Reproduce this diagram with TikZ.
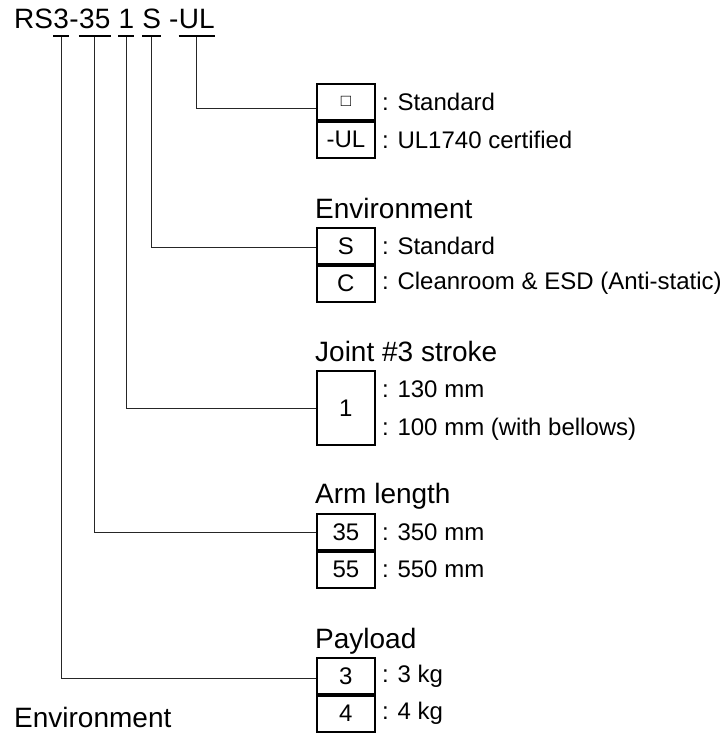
\documentclass[tikz,border=0pt]{standalone}
\usepackage{fontspec}
\setmainfont{Liberation Sans}
\tikzset{
  seg/.style={font=\fontsize{28}{32}\selectfont, inner sep=0pt, anchor=base west},
  uline/.style={line width=2.8pt},
  conn/.style={line width=0.8pt, black!85},
  cell/.style={draw, line width=1.8pt, inner sep=0pt, anchor=north west,
    minimum width=58, minimum height=36, font=\fontsize{24}{28}\selectfont},
  lab/.style={inner sep=0pt, anchor=west, font=\fontsize{24}{28}\selectfont},
  head/.style={inner sep=0pt, anchor=base west, font=\fontsize{28}{32}\selectfont},
}
\begin{document}
\begin{tikzpicture}[x=1pt,y=-1pt]
\useasboundingbox (0,0) rectangle (723,733);
% title
\node[seg] (rs) at (14,29) {RS};
\node[seg] (p3) at (rs.base east) {3};
\node[seg] (d1) at (p3.base east) {-};
\node[seg] (p35) at (d1.base east) {35};
\node[seg] (p1) at ([xshift=7.8pt]p35.base east) {1};
\node[seg] (pS) at ([xshift=7.8pt]p1.base east) {S};
\node[seg] (d2) at ([xshift=7.8pt]pS.base east) {-};
\node[seg] (pUL) at (d2.base east) {UL};
\foreach \n in {p3,p35,p1,pS,pUL}
  \draw[uline] ([yshift=-7pt]\n.base west) -- ([yshift=-7pt]\n.base east);

% UL box
\node[cell] (ul1) at (316,83) {\fontsize{17}{20}\selectfont □};
\node[cell] (ul2) at (ul1.south west) {-UL};
\node[lab] (ul1l) at ([xshift=6pt]ul1.east) {: Standard};
\node[lab] (ul2l) at ([xshift=6pt]ul2.east) {: UL1740 certified};

% Environment
\node[head] (envh) at (315,218) {Environment};
\node[cell] (env1) at (316,227) {S};
\node[cell] (env2) at (env1.south west) {C};
\node[lab] (env1l) at ([xshift=6pt]env1.east) {: Standard};
\node[lab] (env2l) at ([xshift=6pt]env2.east) {: Cleanroom \& ESD (Anti-static)};

% Joint #3 stroke
\node[head] (jh) at (315,361) {Joint \#3 stroke};
\node[cell, minimum height=74] (j1) at (316,370) {1};
\node[lab] (j1l) at ([xshift=6pt,yshift=19pt]j1.east) {: 130 mm};
\node[lab] (j2l) at ([xshift=6pt,yshift=-21pt]j1.east) {: 100 mm (with bellows)};

% Arm length
\node[head] (ah) at (315,503) {Arm length};
\node[cell] (a1) at (316,513) {35};
\node[cell] (a2) at (a1.south west) {55};
\node[lab] (a1l) at ([xshift=6pt]a1.east) {: 350 mm};
\node[lab] (a2l) at ([xshift=6pt]a2.east) {: 550 mm};

% Payload
\node[head] (ph) at (315,648) {Payload};
\node[cell] (q1) at (316,657) {3};
\node[cell] (q2) at (q1.south west) {4};
\node[lab] (q1l) at ([xshift=6pt]q1.east) {: 3 kg};
\node[lab] (q2l) at ([xshift=6pt]q2.east) {: 4 kg};

% bottom label
\node[head] (envb) at (14,727) {Environment};

% connectors
\draw[conn] ([yshift=-8pt]pUL.base) |- ([yshift=-7pt]ul1.west);
\draw[conn] ([yshift=-8pt]pS.base) |- ([yshift=-1pt]env1.west);
\draw[conn] ([yshift=-8pt]p1.base) |- (j1.west);
\draw[conn] ([yshift=-8pt]p35.base) |- (a1.west);
\draw[conn] ([yshift=-8pt]p3.base) |- ([yshift=-2pt]q1.west);
\end{tikzpicture}
\end{document}
